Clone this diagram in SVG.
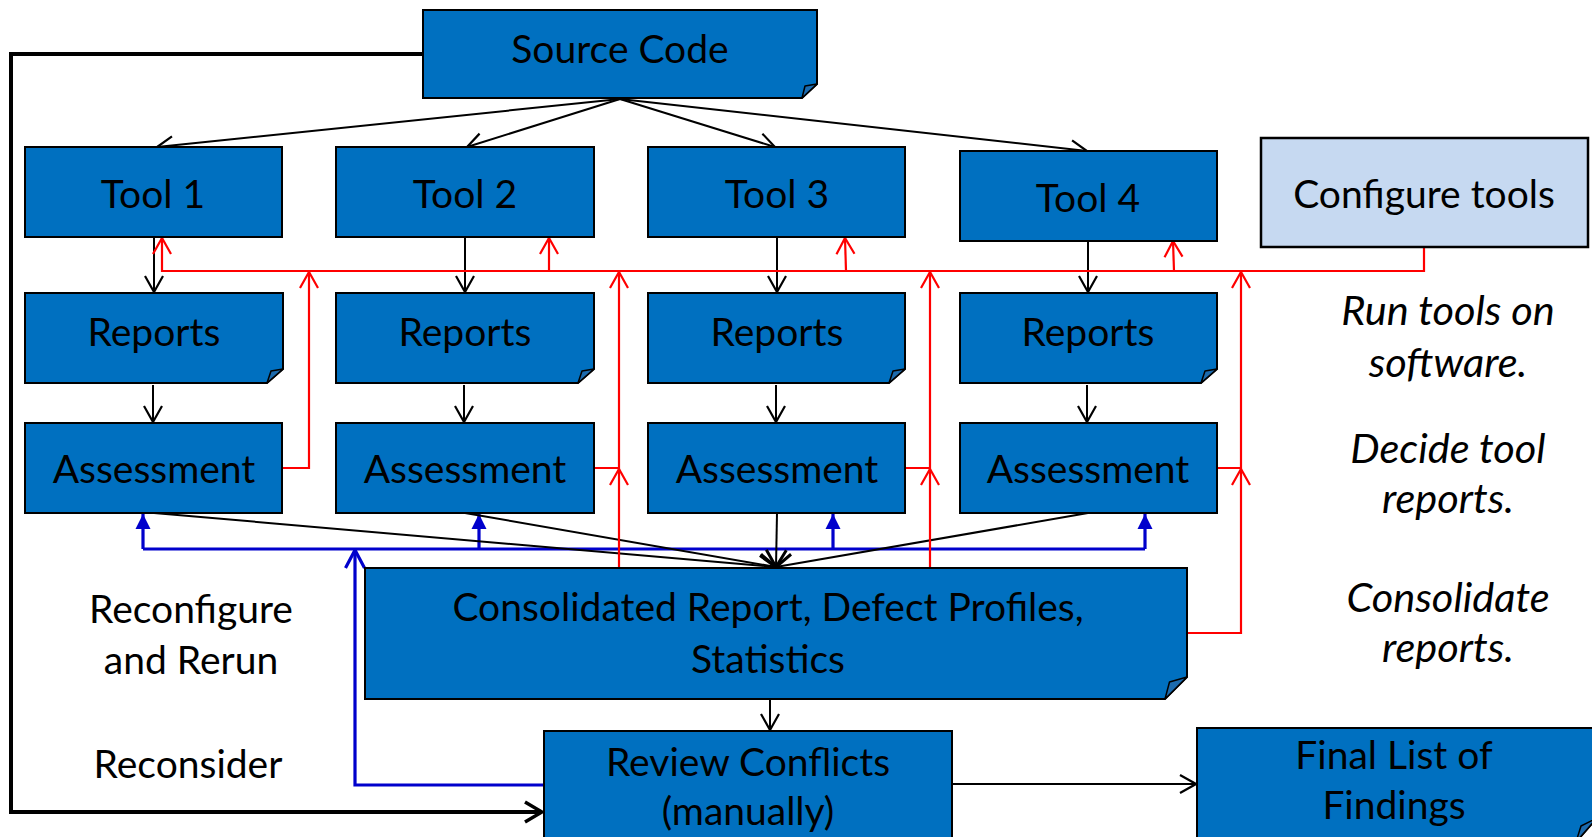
<svg xmlns="http://www.w3.org/2000/svg" width="1592" height="837" viewBox="0 0 1592 837">
<style>
.box{fill:#0070C0;stroke:#000;stroke-width:2}
.cfg{fill:#C6D9F1;stroke:#000;stroke-width:2.5}
.fold{fill:#1C6BAE;stroke:#000;stroke-width:1.5;stroke-linejoin:round}
text{font-family:Lato,"Open Sans","DejaVu Sans",sans-serif;font-size:39px;fill:#000;text-anchor:middle}
.it{font-style:italic;font-size:41.5px}
.bk{fill:none;stroke:#000;stroke-width:2}
.bkt{fill:none;stroke:#000;stroke-width:4}
.rd{fill:none;stroke:#FF0000;stroke-width:2.2}
.bl{fill:none;stroke:#0000CC;stroke-width:3.2}
</style>
<defs>
<marker id="ab" viewBox="-18 -11 20 22" refX="0" refY="0" markerWidth="20" markerHeight="22" orient="auto" markerUnits="userSpaceOnUse"><path d="M-16,-9 L0,0 L-16,9" fill="none" stroke="#000" stroke-width="2.2"/></marker>
<marker id="abc" viewBox="-20 -12 22 24" refX="0" refY="0" markerWidth="22" markerHeight="24" orient="auto" markerUnits="userSpaceOnUse"><path d="M-17,-10 L0,0 L-17,10" fill="none" stroke="#000" stroke-width="3"/></marker>
<marker id="abt" viewBox="-20 -12 22 24" refX="0" refY="0" markerWidth="22" markerHeight="24" orient="auto" markerUnits="userSpaceOnUse"><path d="M-17,-10 L0,0 L-17,10" fill="none" stroke="#000" stroke-width="3.5"/></marker>
<marker id="ar" viewBox="-18 -11 20 22" refX="0" refY="0" markerWidth="20" markerHeight="22" orient="auto" markerUnits="userSpaceOnUse"><path d="M-16,-9 L0,0 L-16,9" fill="none" stroke="#FF0000" stroke-width="2.2"/></marker>
<marker id="abf" viewBox="-16 -9 17 18" refX="0" refY="0" markerWidth="17" markerHeight="18" orient="auto" markerUnits="userSpaceOnUse"><path d="M-15,-7.5 L0,0 L-15,7.5 Z" fill="#0000CC"/></marker>
<marker id="abo" viewBox="-20 -12 22 24" refX="0" refY="0" markerWidth="22" markerHeight="24" orient="auto" markerUnits="userSpaceOnUse"><path d="M-18,-9.5 L0,0 L-18,9.5" fill="none" stroke="#0000CC" stroke-width="3.2"/></marker>
</defs>

<g id="connectors">
<!-- thick feedback from source code -->
<path class="bkt" d="M423,54 H11 V812 H542" marker-end="url(#abt)"/>
<!-- source to tools -->
<path class="bk" d="M620,99 L157,147" marker-end="url(#ab)"/>
<path class="bk" d="M620,99 L467,147" marker-end="url(#ab)"/>
<path class="bk" d="M620,99 L775,147" marker-end="url(#ab)"/>
<path class="bk" d="M620,99 L1087,151" marker-end="url(#ab)"/>
<!-- tools to reports -->
<path class="bk" d="M154,237 V292" marker-end="url(#ab)"/>
<path class="bk" d="M465,237 V292" marker-end="url(#ab)"/>
<path class="bk" d="M777,237 V292" marker-end="url(#ab)"/>
<path class="bk" d="M1088,241 V292" marker-end="url(#ab)"/>
<!-- reports to assessment -->
<path class="bk" d="M153,385 V422" marker-end="url(#ab)"/>
<path class="bk" d="M464,385 V422" marker-end="url(#ab)"/>
<path class="bk" d="M776,385 V422" marker-end="url(#ab)"/>
<path class="bk" d="M1087,385 V422" marker-end="url(#ab)"/>
<!-- blue reconfigure -->
<path class="bl" d="M143,549 H1145"/>
<path class="bl" d="M143,549 V514" marker-end="url(#abf)"/>
<path class="bl" d="M479,549 V514" marker-end="url(#abf)"/>
<path class="bl" d="M833,549 V514" marker-end="url(#abf)"/>
<path class="bl" d="M1145,549 V514" marker-end="url(#abf)"/>
<path class="bl" d="M544,785 H355 V550" marker-end="url(#abo)"/>
<!-- assessments to consolidated -->
<path class="bk" d="M154,513 L776,567" marker-end="url(#abc)"/>
<path class="bk" d="M465,513 L776,567" marker-end="url(#abc)"/>
<path class="bk" d="M777,513 L776,567" marker-end="url(#abc)"/>
<path class="bk" d="M1088,513 L776,567" marker-end="url(#abc)"/>
<!-- consolidated to review -->
<path class="bk" d="M770,699 V730" marker-end="url(#ab)"/>
<!-- review to final -->
<path class="bk" d="M952,784 H1196" marker-end="url(#ab)"/>
<!-- red configure lines -->
<path class="rd" d="M1424,248 V271 H162 V238" marker-end="url(#ar)"/>
<path class="rd" d="M549,271 V238" marker-end="url(#ar)"/>
<path class="rd" d="M846,271 L845,238" marker-end="url(#ar)"/>
<path class="rd" d="M1174,271 L1173,241" marker-end="url(#ar)"/>
<path class="rd" d="M282,468 H309 V272" marker-end="url(#ar)"/>
<path class="rd" d="M594,468 H619 V272" marker-end="url(#ar)"/>
<path class="rd" d="M619,567 V469" marker-end="url(#ar)"/>
<path class="rd" d="M905,468 H930 V272" marker-end="url(#ar)"/>
<path class="rd" d="M930,567 V469" marker-end="url(#ar)"/>
<path class="rd" d="M1217,468 H1241 V272" marker-end="url(#ar)"/>
<path class="rd" d="M1187,633 H1241 V469" marker-end="url(#ar)"/>
</g>

<g id="source-code">
<path class="box" d="M423,10 H817 V84 L802,98 H423 Z"/>
<path class="fold" d="M802,98 L805,86 L817,84 Z"/>
<text x="620" y="63">Source Code</text>
</g>

<g id="tool1"><rect class="box" x="25" y="147" width="257" height="90"/><text x="153" y="208">Tool 1</text></g>
<g id="tool2"><rect class="box" x="336" y="147" width="258" height="90"/><text x="465" y="208">Tool 2</text></g>
<g id="tool3"><rect class="box" x="648" y="147" width="257" height="90"/><text x="777" y="208">Tool 3</text></g>
<g id="tool4"><rect class="box" x="960" y="151" width="257" height="90"/><text x="1088" y="212">Tool 4</text></g>
<g id="configure-tools"><rect class="cfg" x="1261" y="138" width="327" height="109"/><text x="1424" y="208">Configure tools</text></g>

<g id="reports1"><path class="box" d="M25,293 H283 V369 L267,383 H25 Z"/><path class="fold" d="M267,383 L271,371 L283,369 Z"/><text x="154" y="346">Reports</text></g>
<g id="reports2"><path class="box" d="M336,293 H594 V369 L578,383 H336 Z"/><path class="fold" d="M578,383 L582,371 L594,369 Z"/><text x="465" y="346">Reports</text></g>
<g id="reports3"><path class="box" d="M648,293 H905 V369 L889,383 H648 Z"/><path class="fold" d="M889,383 L893,371 L905,369 Z"/><text x="777" y="346">Reports</text></g>
<g id="reports4"><path class="box" d="M960,293 H1217 V369 L1201,383 H960 Z"/><path class="fold" d="M1201,383 L1205,371 L1217,369 Z"/><text x="1088" y="346">Reports</text></g>

<g id="assessment1"><rect class="box" x="25" y="423" width="257" height="90"/><text x="154" y="483">Assessment</text></g>
<g id="assessment2"><rect class="box" x="336" y="423" width="258" height="90"/><text x="465" y="483">Assessment</text></g>
<g id="assessment3"><rect class="box" x="648" y="423" width="257" height="90"/><text x="777" y="483">Assessment</text></g>
<g id="assessment4"><rect class="box" x="960" y="423" width="257" height="90"/><text x="1088" y="483">Assessment</text></g>

<g id="consolidated">
<path class="box" d="M365,568 H1187 V677 L1165,699 H365 Z"/>
<path class="fold" d="M1165,699 L1169.5,682 L1187,677 Z"/>
<text x="768" y="621">Consolidated Report, Defect Profiles,</text>
<text x="768" y="673">Statistics</text>
</g>

<g id="review-conflicts">
<rect class="box" x="544" y="731" width="408" height="115"/>
<text x="748" y="776">Review Conflicts</text>
<text x="748" y="825">(manually)</text>
</g>

<g id="final-list">
<path class="box" d="M1197,728 H1597 V818 L1576,842 H1197 Z"/>
<path class="fold" d="M1576,842 L1581,826 L1597,818 Z"/>
<text x="1394" y="769">Final List of</text>
<text x="1394" y="819">Findings</text>
</g>

<g id="labels">
<text class="it" x="1448" y="325">Run tools on</text>
<text class="it" x="1448" y="377">software.</text>
<text class="it" x="1448" y="463">Decide tool</text>
<text class="it" x="1448" y="513">reports.</text>
<text class="it" x="1448" y="612">Consolidate</text>
<text class="it" x="1448" y="662">reports.</text>
<text x="191" y="623">Reconfigure</text>
<text x="191" y="674">and Rerun</text>
<text x="188" y="778">Reconsider</text>
</g>
</svg>
